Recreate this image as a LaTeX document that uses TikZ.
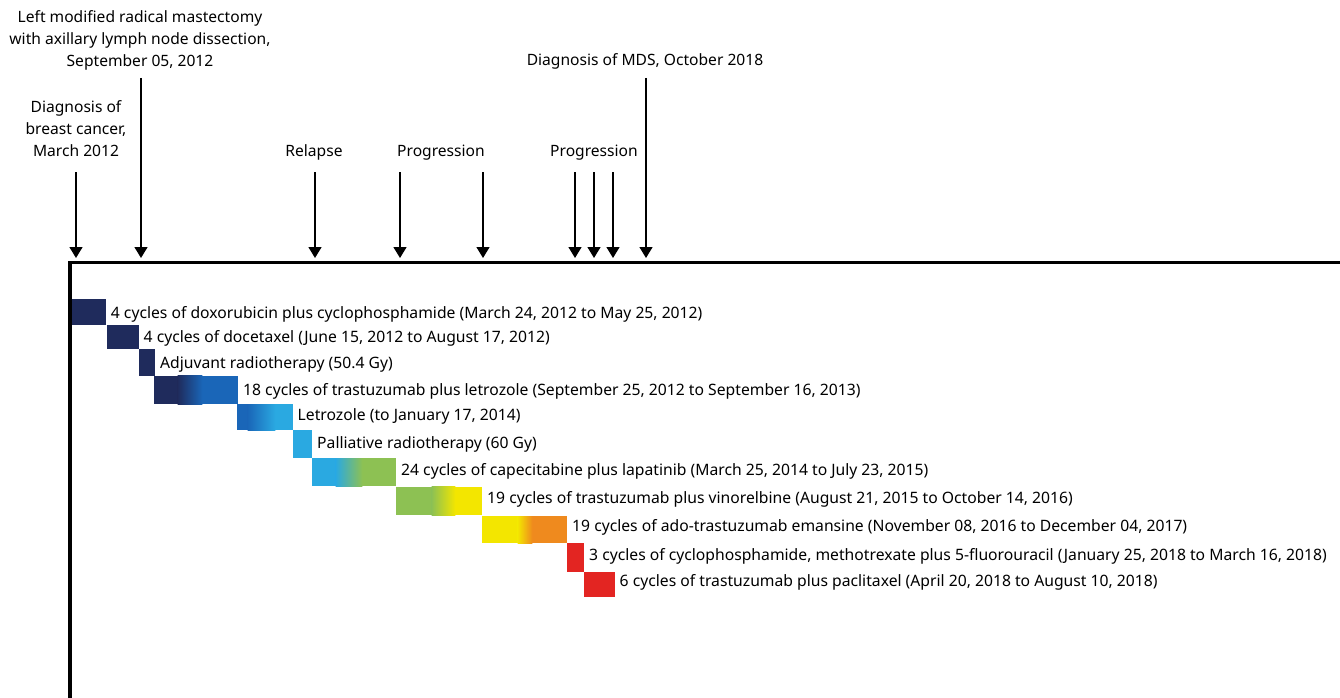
\documentclass[tikz,border=0pt]{standalone}
\usepackage{fontspec}
\setmainfont{Noto Sans}
\usetikzlibrary{arrows.meta,positioning}
\definecolor{navy}{HTML}{1F2B5C}
\definecolor{midblue}{HTML}{1A66B8}
\definecolor{skyblue}{HTML}{2AA9E1}
\definecolor{leaf}{HTML}{8DC153}
\definecolor{lemon}{HTML}{F3E600}
\definecolor{amber}{HTML}{EF8A1E}
\definecolor{scarlet}{HTML}{E32522}
\tikzset{
  evt/.style={align=center,inner sep=0pt,font=\fontsize{15.6}{22}\selectfont},
  lbl/.style={anchor=base west,inner sep=0pt,font=\fontsize{15.7}{22}\selectfont},
  ar/.style={-{Triangle[width=13pt,length=11pt]},line width=1.4pt},
  axisline/.style={line width=3.5pt},
}
\begin{document}
\begin{tikzpicture}[x=1pt,y=-1pt]
  \useasboundingbox (0,0) rectangle (1340,698);
  % event labels (base = last line)
  \node[evt,anchor=base] (dx) at (76,157) {Diagnosis of\\breast cancer,\\March 2012};
  \node[evt,anchor=base] (mrm) at (140,67) {Left modified radical mastectomy\\with axillary lymph node dissection,\\September 05, 2012};
  \node[evt,anchor=base] (rel) at (314,157) {Relapse};
  \node[evt,anchor=base] (prog1) at (441,157) {Progression};
  \node[evt,anchor=base] (prog2) at (594,157) {Progression};
  \node[evt,anchor=base] (mds) at (645,66) {Diagnosis of MDS, October 2018};
  % arrows onto the axis
  \foreach \n/\x/\y in {1/76/172,2/141/78,3/315/172,4/400/172,5/483/172,6/575/172,7/594/172,8/613/172,9/646/78}{
    \coordinate (s\n) at (\x,\y);
    \coordinate (e\n) at (\x,258);
    \draw[ar] (s\n) -- (e\n);
  }
  % single-colour bars
  \foreach \n/\xa/\xd/\ya/\yb/\ca/\bl/\txt in {
    1/70/105.7/298.5/324.5/navy/318.3/{4 cycles of doxorubicin plus cyclophosphamide (March 24, 2012 to May 25, 2012)},
    2/106.5/138.5/324.5/348.5/navy/342.3/{4 cycles of docetaxel (June 15, 2012 to August 17, 2012)},
    3/138.5/155/348.5/375.5/navy/368.3/{Adjuvant radiotherapy (50.4 Gy)},
    6/293/312/430/458/skyblue/448.3/{Palliative radiotherapy (60 Gy)},
    10/566.5/584/543/571.5/scarlet/560/{3 cycles of cyclophosphamide, methotrexate plus 5-fluorouracil (January 25, 2018 to March 16, 2018)},
    11/584/614.5/572/597/scarlet/586.7/{6 cycles of trastuzumab plus paclitaxel (April 20, 2018 to August 10, 2018)}}{
    \fill[\ca] (\xa,\ya) rectangle (\xd,\yb);
    \node[lbl] (t\n) at (\xd+5,\bl) {\txt};
  }
  % blended bars: solid / blend / solid
  \foreach \n/\xa/\xb/\xc/\xd/\ya/\yb/\ca/\cb/\bl/\txt in {
    4/154/178/202/238/375.5/404/navy/midblue/395/{18 cycles of trastuzumab plus letrozole (September 25, 2012 to September 16, 2013)},
    5/237/248/275/292.5/404/430/midblue/skyblue/420/{Letrozole (to January 17, 2014)},
    7/311.5/336/362/396/458/486/skyblue/leaf/475/{24 cycles of capecitabine plus lapatinib (March 25, 2014 to July 23, 2015)},
    8/396/432/455/482/486.5/515/leaf/lemon/503.3/{19 cycles of trastuzumab plus vinorelbine (August 21, 2015 to October 14, 2016)},
    9/482/518/532/567/516/543/lemon/amber/531.7/{19 cycles of ado-trastuzumab emansine (November 08, 2016 to December 04, 2017)}}{
    \fill[\ca] (\xa,\ya) rectangle (\xb,\yb);
    \fill[\cb] (\xc,\ya) rectangle (\xd,\yb);
    \shade[left color=\ca,right color=\cb] (\xb-0.3,\ya) rectangle (\xc+0.3,\yb);
    \node[lbl] (t\n) at (\xd+5,\bl) {\txt};
  }
  % axes
  \coordinate (top) at (70,262.7);
  \coordinate (btm) at (70,698);
  \coordinate (rgt) at (1340,262.7);
  \draw[axisline] (btm) -- (top) -- (rgt);
\end{tikzpicture}
\end{document}
